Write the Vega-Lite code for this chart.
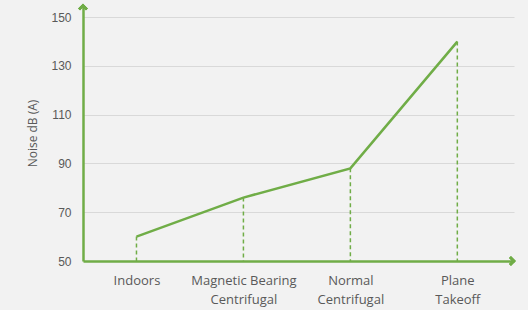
{
  "$schema": "https://vega.github.io/schema/vega-lite/v6.json",
  "width": 431,
  "height": 256,
  "autosize": {"type": "none"},
  "padding": {"left": 83, "top": 5, "right": 14, "bottom": 49},
  "background": "#f2f2f2",
  "config": {"view": {"stroke": null}},
  "data": {"values": [
    {"i": 0, "label": "Indoors", "noise": 60},
    {"i": 1, "label": "Magnetic Bearing Centrifugal", "noise": 76},
    {"i": 2, "label": "Normal Centrifugal", "noise": 88},
    {"i": 3, "label": "Plane Takeoff", "noise": 140}
  ]},
  "encoding": {
    "x": {
      "field": "i", "type": "quantitative",
      "scale": {"domain": [-0.5, 3.53], "nice": false, "zero": false},
      "axis": {
        "title": null, "values": [0, 1, 2, 3], "grid": false, "ticks": false,
        "domainColor": "#70ad47", "domainWidth": 2.5,
        "labelExpr": "[['Indoors'], ['Magnetic Bearing', 'Centrifugal'], ['Normal', 'Centrifugal'], ['Plane', 'Takeoff']][datum.value]",
        "labelFont": "Open Sans", "labelFontSize": 13, "labelColor": "#595959",
        "labelPadding": 13, "labelLineHeight": 19, "labelBaseline": "top"
      }
    },
    "y": {
      "field": "noise", "type": "quantitative",
      "scale": {"domain": [50, 155], "nice": false, "zero": false},
      "axis": {
        "title": "Noise dB (A)", "values": [50, 70, 90, 110, 130, 150],
        "ticks": false, "grid": true, "gridColor": "#d9d9d9", "gridWidth": 1,
        "domainColor": "#70ad47", "domainWidth": 2.5,
        "labelFont": "Liberation Sans", "labelFontSize": 12, "labelColor": "#595959",
        "labelPadding": 12,
        "titleFont": "Open Sans", "titleFontSize": 12, "titleFontWeight": "normal",
        "titleColor": "#595959", "titlePadding": 11
      }
    }
  },
  "layer": [
    {
      "mark": {"type": "rule", "color": "#70ad47", "strokeWidth": 1.5, "strokeDash": [4, 3]},
      "encoding": {"y2": {"datum": 50}}
    },
    {
      "mark": {"type": "line", "color": "#70ad47", "strokeWidth": 2.5}
    },
    {
      "mark": {"type": "point", "shape": "M-1,0.6L0,-0.4L1,0.6", "filled": false, "color": "#70ad47", "strokeWidth": 2.5, "size": 60, "opacity": 1},
      "encoding": {"x": {"datum": -0.5, "type": "quantitative"}, "y": {"datum": 154.2, "type": "quantitative"}}
    },
    {
      "mark": {"type": "point", "shape": "M-0.6,-1L0.4,0L-0.6,1", "filled": false, "color": "#70ad47", "strokeWidth": 2.5, "size": 60, "opacity": 1},
      "encoding": {"x": {"datum": 3.515, "type": "quantitative"}, "y": {"datum": 50, "type": "quantitative"}}
    }
  ]
}
